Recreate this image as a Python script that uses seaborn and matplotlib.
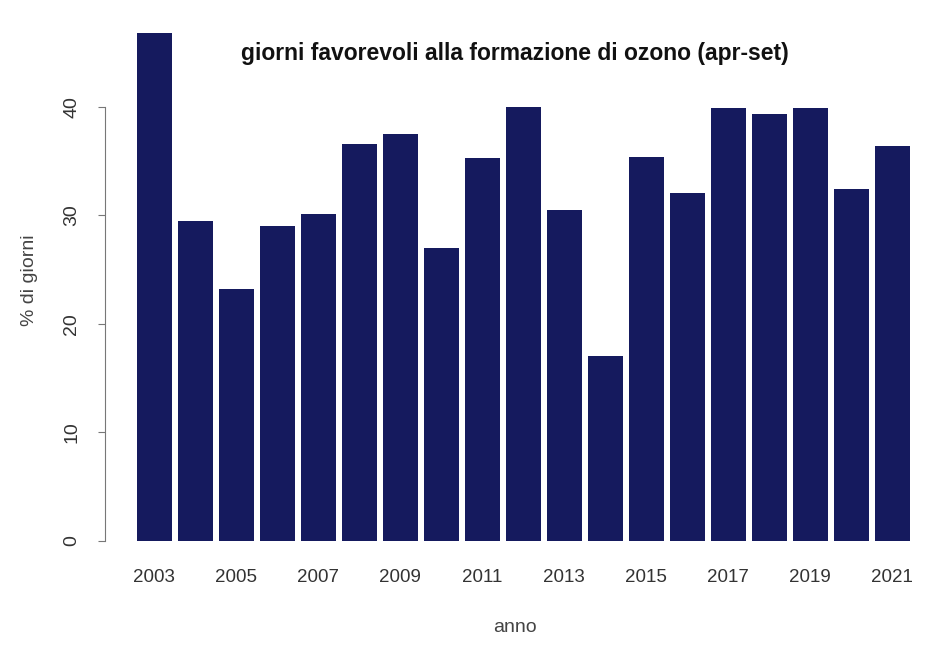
import matplotlib
matplotlib.use("Agg")
import matplotlib.pyplot as plt
import seaborn as sns
import pandas as pd

anni = [str(y) for y in range(2003, 2022)]
percentuali = [46.8, 29.5, 23.2, 29.0, 30.1, 36.6, 37.5, 27.0, 35.3, 40.0,
               30.5, 17.0, 35.4, 32.1, 39.9, 39.3, 39.9, 32.4, 36.4]
yticks = [0, 10, 20, 30, 40]
titolo = "giorni favorevoli alla formazione di ozono (apr-set)"

sns.set_style("white")
plt.rcParams['font.family'] = ['Liberation Sans', 'DejaVu Sans']

df = pd.DataFrame({"anno": anni, "perc": percentuali})

fig = plt.figure(figsize=(9.48, 6.5), dpi=100)
ax = fig.add_axes([0.1108, 0.1677, 0.865, 0.8015])
sns.barplot(data=df, x="anno", y="perc", color="#151a5e", saturation=1,
            width=0.85, ax=ax, edgecolor="none")

ax.set_xlim(-1.2, 18.8)
ax.set_ylim(0, 48)
for s in ["top", "right", "bottom"]:
    ax.spines[s].set_visible(False)
ax.spines["left"].set_bounds(0, 40)
ax.spines["left"].set_color("#777777")
ax.spines["left"].set_linewidth(0.8)

ax.set_yticks(yticks)
ax.set_yticklabels([str(v) for v in yticks], rotation=90, va="center",
                   fontsize=14, color="#333333")
ax.tick_params(axis="y", length=5, color="#777777", width=0.8, pad=13, left=True)

ax.set_xticks(range(len(anni)))
ax.set_xticklabels([a if i % 2 == 0 else "" for i, a in enumerate(anni)],
                   fontsize=13.5, color="#333333")
ax.tick_params(axis="x", length=0, pad=20)

ax.set_xlabel("anno", fontsize=14, color="#444444", labelpad=24)
ax.set_ylabel("% di giorni", fontsize=14, color="#444444", labelpad=18)
ax.set_title(titolo, fontsize=16.5, fontweight="bold", color="#111111",
             y=0.919, va="center")

fig.savefig("out.png", dpi=100, facecolor="white")
